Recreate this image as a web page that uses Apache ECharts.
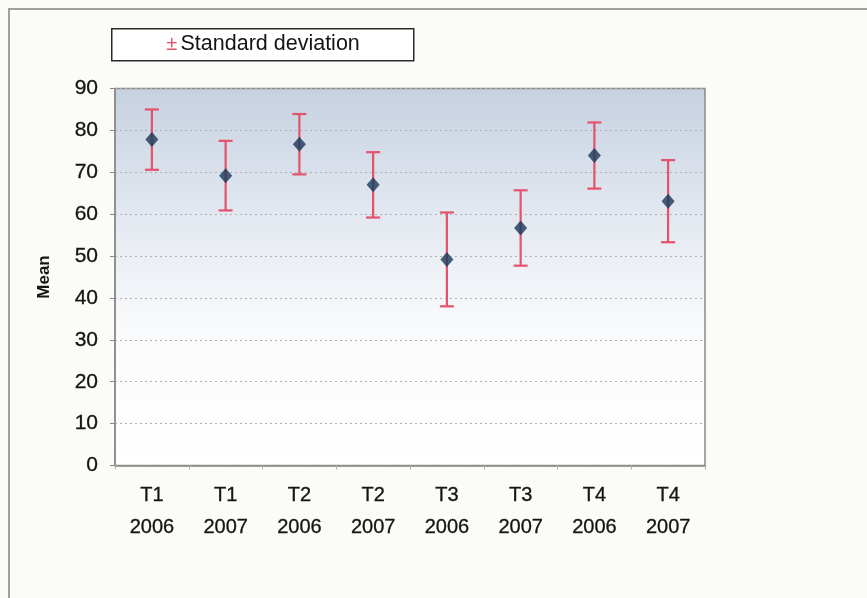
<!DOCTYPE html>
<html>
<head>
<meta charset="utf-8">
<script src="https://cdn.jsdelivr.net/npm/echarts@6/dist/echarts.min.js"></script>
<style>
  html, body { margin: 0; padding: 0; background: #fbfbf7; }
  #chart { width: 867px; height: 598px; }
</style>
</head>
<body>
<div id="chart"></div>
<script>
// Survey periods (term + year)
const categories = ['T1\n2006', 'T1\n2007', 'T2\n2006', 'T2\n2007', 'T3\n2006', 'T3\n2007', 'T4\n2006', 'T4\n2007'];
// Mean score per period
const means = [77.8, 69.2, 76.7, 67.0, 49.2, 56.7, 74.0, 63.1];
// Standard deviation per period
const stdDevs = [7.2, 8.3, 7.2, 7.8, 11.2, 9.0, 7.9, 9.8];
// Y axis range
const yMin = 0, yMax = 90, yStep = 10;

const FONT = '"Liberation Sans", Arial, sans-serif';
const TEXT_COLOR = '#141414';
const BAR_COLOR = '#e4526c';
const POINT_COLOR = '#18385a';

const chart = echarts.init(document.getElementById('chart'));

const errorData = categories.map((c, i) => [i, means[i] - stdDevs[i], means[i] + stdDevs[i]]);

chart.setOption({
  backgroundColor: '#fbfbf7',
  animation: false,
  grid: {
    left: 115, right: 162, top: 88.5, bottom: 132.5,
    show: true,
    borderColor: '#8a8a8a',
    borderWidth: 1.5,
    backgroundColor: {
      type: 'linear', x: 0, y: 0, x2: 0, y2: 1,
      colorStops: [
        { offset: 0, color: '#c6d1e0' },
        { offset: 0.35, color: '#e4e9f1' },
        { offset: 0.65, color: '#fafbfc' },
        { offset: 1, color: '#ffffff' }
      ]
    }
  },
  xAxis: {
    type: 'category',
    data: categories,
    boundaryGap: true,
    axisLine: { lineStyle: { color: '#8a8a8a', width: 1.5 } },
    axisTick: { show: true, interval: 0, length: 4, lineStyle: { color: '#b0b0b0' } },
    axisLabel: {
      interval: 0, color: TEXT_COLOR, fontFamily: FONT, fontSize: 20,
      lineHeight: 32, margin: 14,
      textBorderColor: TEXT_COLOR, textBorderWidth: 0.3
    },
    splitLine: { show: false }
  },
  yAxis: {
    type: 'value',
    min: yMin, max: yMax, interval: yStep,
    name: 'Mean',
    nameLocation: 'middle',
    nameGap: 62,
    nameRotate: 90,
    nameTextStyle: { color: TEXT_COLOR, fontFamily: FONT, fontSize: 17, fontWeight: 'bold' },
    axisLine: { show: true, lineStyle: { color: '#8a8a8a', width: 1.5 } },
    axisTick: { show: true, length: 5, lineStyle: { color: '#8a8a8a' } },
    axisLabel: {
      color: TEXT_COLOR, fontFamily: FONT, fontSize: 21, margin: 17,
      textBorderColor: TEXT_COLOR, textBorderWidth: 0.3
    },
    splitLine: { show: true, lineStyle: { color: '#b0b0b0', type: [2, 3], width: 1 } }
  },
  series: [
    {
      name: 'Standard deviation',
      type: 'custom',
      data: errorData,
      z: 2,
      renderItem: function (params, api) {
        const x = api.value(0);
        const lo = api.coord([x, api.value(1)]);
        const hi = api.coord([x, api.value(2)]);
        const half = 7;
        const style = { stroke: BAR_COLOR, lineWidth: 2.2, fill: null };
        return {
          type: 'group',
          children: [
            { type: 'line', shape: { x1: lo[0], y1: lo[1], x2: hi[0], y2: hi[1] }, style: style },
            { type: 'line', shape: { x1: hi[0] - half, y1: hi[1], x2: hi[0] + half, y2: hi[1] }, style: style },
            { type: 'line', shape: { x1: lo[0] - half, y1: lo[1], x2: lo[0] + half, y2: lo[1] }, style: style }
          ]
        };
      }
    },
    {
      name: 'Mean',
      type: 'scatter',
      data: means,
      symbol: 'diamond',
      symbolSize: [13, 15],
      itemStyle: { color: POINT_COLOR },
      z: 3
    }
  ],
  graphic: [
    // outer chart frame
    { type: 'polyline', shape: { points: [[9, 598], [9, 9], [867, 9]] },
      style: { stroke: '#a0a0a0', lineWidth: 2, fill: null }, silent: true },
    // legend box
    { type: 'rect', left: 111, top: 28, shape: { width: 302, height: 32 },
      style: { fill: '#ffffff', stroke: '#2a2a2a', lineWidth: 1.5 }, silent: true },
    { type: 'text', x: 263, y: 44,
      style: {
        text: '{pm|±} {t|Standard deviation}',
        align: 'center', verticalAlign: 'middle',
        rich: {
          pm: { fill: BAR_COLOR, fontFamily: FONT, fontSize: 20 },
          t: { fill: TEXT_COLOR, fontFamily: FONT, fontSize: 21.5 }
        }
      }, silent: true }
  ]
});
</script>
</body>
</html>
